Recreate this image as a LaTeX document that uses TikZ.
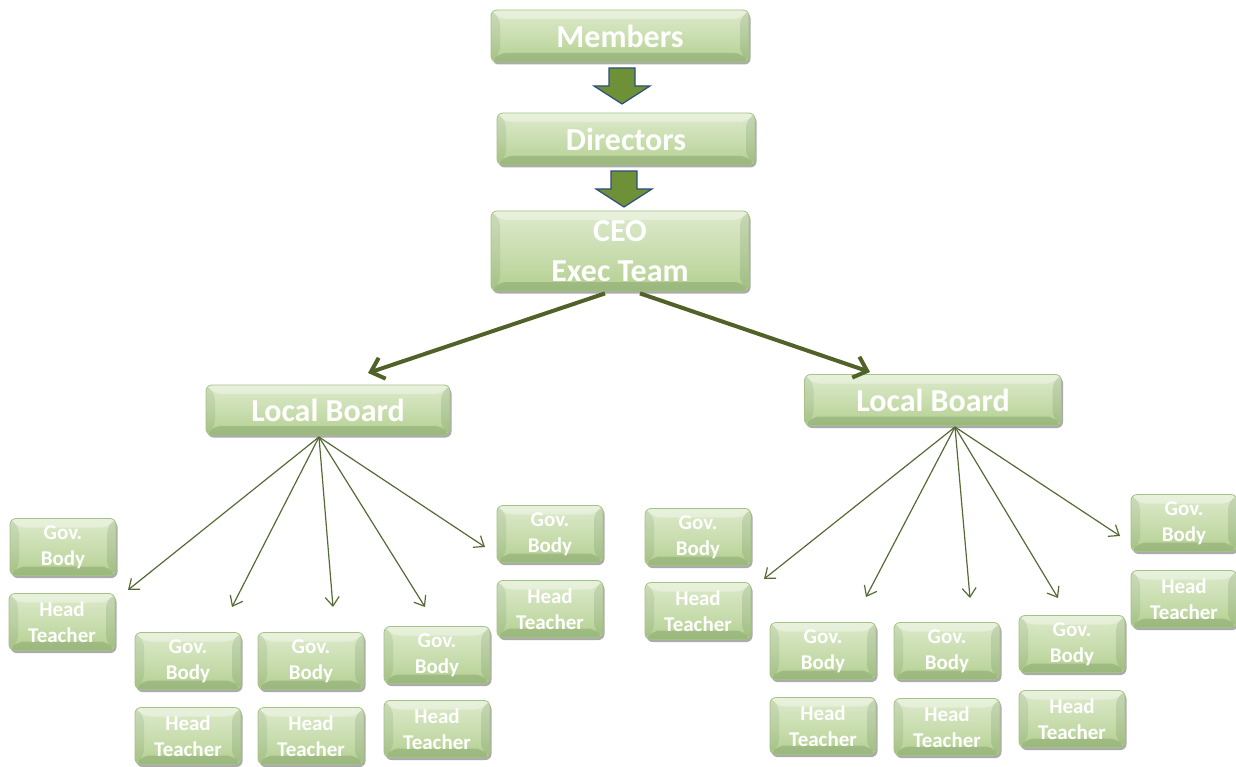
\documentclass[tikz,border=0pt]{standalone}
\usepackage{fontspec}
\setmainfont{Carlito}
\usetikzlibrary{arrows.meta,shadows,calc}
\definecolor{boxtop}{HTML}{DDEACB}
\definecolor{boxbot}{HTML}{B3CF90}
\definecolor{boxedge}{HTML}{A3C283}
\definecolor{blockfill}{HTML}{6E9137}
\definecolor{blockedge}{HTML}{2E4E7E}
\definecolor{linkcol}{HTML}{556B35}
\definecolor{thickcol}{HTML}{4F6228}
\newcommand{\bv}{9pt}
\tikzset{
  bevelbox/.style={draw=boxedge, line width=0.8pt, rounded corners=6pt,
    top color=boxtop, bottom color=boxbot, middle color=boxtop!55!boxbot,
    drop shadow={shadow xshift=1.5pt, shadow yshift=-2.5pt, fill=black!60, opacity=0.55},
    text=white, font=\bfseries, align=center, inner sep=0pt,
    path picture={
      % bevel facets: light top, shaded sides and bottom
      \fill[white, opacity=0.35]
        (path picture bounding box.north west) -- (path picture bounding box.north east)
        -- ([xshift=-\bv,yshift=-\bv]path picture bounding box.north east)
        -- ([xshift=\bv,yshift=-\bv]path picture bounding box.north west) -- cycle;
      \fill[black!40!green!30!black, opacity=0.08]
        (path picture bounding box.north west) -- (path picture bounding box.south west)
        -- ([xshift=\bv,yshift=\bv]path picture bounding box.south west)
        -- ([xshift=\bv,yshift=-\bv]path picture bounding box.north west) -- cycle;
      \fill[black!40!green!30!black, opacity=0.10]
        (path picture bounding box.north east) -- (path picture bounding box.south east)
        -- ([xshift=-\bv,yshift=\bv]path picture bounding box.south east)
        -- ([xshift=-\bv,yshift=-\bv]path picture bounding box.north east) -- cycle;
      \fill[black!40!green!30!black, opacity=0.14]
        (path picture bounding box.south west) -- (path picture bounding box.south east)
        -- ([xshift=-\bv,yshift=\bv]path picture bounding box.south east)
        -- ([xshift=\bv,yshift=\bv]path picture bounding box.south west) -- cycle;
    }},
  bigbox/.style={bevelbox, minimum width=258pt, minimum height=52pt,
    font=\fontsize{32}{40}\selectfont\bfseries},
  smallbox/.style={bevelbox, minimum width=106pt, minimum height=57pt,
    font=\fontsize{21}{26}\selectfont\bfseries},
  blockarrow/.style={fill=blockfill, draw=blockedge, line width=1.2pt, line join=miter},
  thicklink/.style={draw=thickcol, line width=4pt,
    -{Straight Barb[length=12pt,width=22pt,line width=4pt]}},
  thinlink/.style={draw=linkcol, line width=1.2pt,
    -{Straight Barb[length=9pt,width=14pt,line width=1.2pt]}},
}
\begin{document}
\begin{tikzpicture}[x=1pt,y=-1pt]
\useasboundingbox (0,0) rectangle (1236,767);

% top of the chain
\node[bigbox] (members) at (620,36) {Members};
\node[bigbox] (directors) at (626,139) {Directors};
\node[bigbox, minimum height=80pt] (ceo) at (620,251) {CEO\\Exec Team};

% block arrows between the top boxes
\coordinate (a1) at (622,68);
\coordinate (a2) at (624,171);
\foreach \c in {a1,a2}{
  \draw[blockarrow] ($(\c)+(-13,0)$) -- ($(\c)+(13,0)$) -- ($(\c)+(13,18)$)
    -- ($(\c)+(28,18)$) -- ($(\c)+(0,36)$) -- ($(\c)+(-28,18)$)
    -- ($(\c)+(-13,18)$) -- cycle;
}

% local boards
\node[bigbox, minimum width=244pt, minimum height=50pt] (lbl) at (328,410) {Local Board};
\node[bigbox, minimum width=257pt, minimum height=51pt] (lbr) at (933,400) {Local Board};

\coordinate (ceoL) at ($(ceo.south)+(-15,2)$);
\coordinate (ceoR) at ($(ceo.south)+(20,2)$);
\coordinate (tL) at (368,373);
\coordinate (tR) at (870,372);
\draw[thicklink] (ceoL) -- (tL);
\draw[thicklink] (ceoR) -- (tR);

% left school group
\node[smallbox] (g1) at (63,547) {Gov.\\Body};
\node[smallbox] (h1) at (62,622) {Head\\Teacher};
\node[smallbox] (g2) at (188,661) {Gov.\\Body};
\node[smallbox] (h2) at (188,736) {Head\\Teacher};
\node[smallbox] (g3) at (311,661) {Gov.\\Body};
\node[smallbox] (h3) at (311,736) {Head\\Teacher};
\node[smallbox] (g4) at (437,655) {Gov.\\Body};
\node[smallbox] (h4) at (437,729) {Head\\Teacher};
\node[smallbox] (g5) at (550,534) {Gov.\\Body};
\node[smallbox] (h5) at (550,609) {Head\\Teacher};

% right school group
\node[smallbox] (g6) at (698,537) {Gov.\\Body};
\node[smallbox] (h6) at (698,611) {Head\\Teacher};
\node[smallbox] (g7) at (823,651) {Gov.\\Body};
\node[smallbox] (h7) at (823,726) {Head\\Teacher};
\node[smallbox] (g8) at (947,651) {Gov.\\Body};
\node[smallbox] (h8) at (947,727) {Head\\Teacher};
\node[smallbox] (g9) at (1072,644) {Gov.\\Body};
\node[smallbox] (h9) at (1072,719) {Head\\Teacher};
\node[smallbox] (g10) at (1184,523) {Gov.\\Body};
\node[smallbox] (h10) at (1184,599) {Head\\Teacher};

% fan of links under each local board
\coordinate (fl) at (319,437);
\coordinate (fr) at (955,427);
\coordinate (e1) at (128,590);
\coordinate (e2) at (232,607);
\coordinate (e3) at (333,607);
\coordinate (e4) at (425,607);
\coordinate (e5) at (485,547);
\coordinate (e6) at (764,579);
\coordinate (e7) at (866,597);
\coordinate (e8) at (970,598);
\coordinate (e9) at (1058,598);
\coordinate (e10) at (1120,536);
\foreach \e in {e1,e2,e3,e4,e5} \draw[thinlink] (fl) -- (\e);
\foreach \e in {e6,e7,e8,e9,e10} \draw[thinlink] (fr) -- (\e);
\end{tikzpicture}
\end{document}
